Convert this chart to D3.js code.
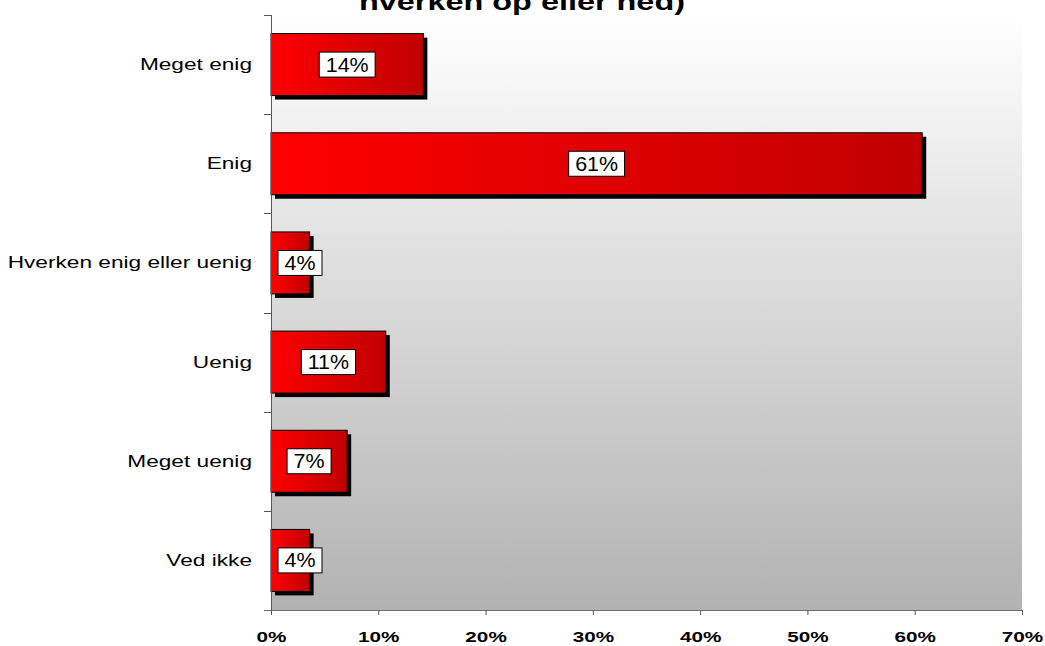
<!DOCTYPE html>
<html>
<head>
<meta charset="utf-8">
<script src="https://cdn.jsdelivr.net/npm/d3@7"></script>
<style>
  body { margin: 0; background: #fff; }
  svg { display: block; font-family: "Liberation Sans", Arial, sans-serif; }
</style>
</head>
<body>
<svg id="chart"></svg>
<script>
// chart data
const categories = ['Meget enig', 'Enig', 'Hverken enig eller uenig', 'Uenig', 'Meget uenig', 'Ved ikke'];
const values = [14.2, 60.7, 3.6, 10.7, 7.1, 3.6];
const xTicks = [0, 10, 20, 30, 40, 50, 60, 70];
const titleText = 'hverken op eller ned)';

class BarChart {

  constructor(_config) {
    this.config = {
      parentElement: _config.parentElement,
      containerWidth: 1045,
      containerHeight: 646,
      margin: { top: 15, right: 23, bottom: 36, left: 271 },
      stretch: 1.38   // the original picture is stretched sideways
    };
    this.initVis();
  }

  initVis() {
    let vis = this;
    vis.width = vis.config.containerWidth - vis.config.margin.left - vis.config.margin.right;
    vis.height = vis.config.containerHeight - vis.config.margin.top - vis.config.margin.bottom;

    vis.svg = d3.select(vis.config.parentElement)
      .attr('width', vis.config.containerWidth)
      .attr('height', vis.config.containerHeight);

    const defs = vis.svg.append('defs');
    const bg = defs.append('linearGradient')
      .attr('id', 'bg-grad')
      .attr('x1', 0).attr('y1', 0).attr('x2', 0).attr('y2', 1);
    bg.append('stop').attr('offset', '0%').attr('stop-color', '#ffffff');
    bg.append('stop').attr('offset', '100%').attr('stop-color', '#b2b2b2');

    const barGrad = defs.append('linearGradient')
      .attr('id', 'bar-grad')
      .attr('x1', 0).attr('y1', 0).attr('x2', 1).attr('y2', 0);
    barGrad.append('stop').attr('offset', '0%').attr('stop-color', '#ff0000');
    barGrad.append('stop').attr('offset', '100%').attr('stop-color', '#c00000');

    vis.chartArea = vis.svg.append('g')
      .attr('transform', `translate(${vis.config.margin.left},${vis.config.margin.top})`);

    vis.xScale = d3.scaleLinear()
      .domain([0, 70])
      .range([0, vis.width]);

    vis.yScale = d3.scaleBand()
      .domain(categories)
      .range([0, vis.height])
      .paddingInner(0.375)
      .paddingOuter(0.1875);

    // plot background
    vis.chartArea.append('rect')
      .attr('width', vis.width)
      .attr('height', vis.height)
      .attr('fill', 'url(#bg-grad)');

    // title, its upper part falls outside the picture like in the original
    vis.svg.append('text')
      .attr('transform', `translate(522,10) scale(${vis.config.stretch},1)`)
      .attr('text-anchor', 'middle')
      .style('font-weight', 'bold')
      .style('font-size', '23.5px')
      .text(titleText);
  }

  renderVis() {
    let vis = this;
    const data = categories.map((c, i) => ({ category: c, value: values[i] }));
    const bw = vis.yScale.bandwidth();

    // shadows
    vis.chartArea.selectAll('.shadow')
      .data(data)
      .join('rect')
      .attr('class', 'shadow')
      .attr('x', vis.xScale(0) + 4)
      .attr('y', d => vis.yScale(d.category) + 4)
      .attr('width', d => vis.xScale(d.value) - vis.xScale(0))
      .attr('height', bw)
      .attr('fill', '#000');

    // bars
    vis.chartArea.selectAll('.bar')
      .data(data)
      .join('rect')
      .attr('class', 'bar')
      .attr('x', vis.xScale(0))
      .attr('y', d => vis.yScale(d.category))
      .attr('width', d => vis.xScale(d.value) - vis.xScale(0))
      .attr('height', bw)
      .attr('fill', 'url(#bar-grad)')
      .attr('stroke', '#000')
      .attr('stroke-width', 1);

    // axes
    const xAxis = d3.axisBottom(vis.xScale)
      .tickValues(xTicks)
      .tickSize(5)
      .tickPadding(0)
      .tickFormat(d => d + '%');

    const yAxis = d3.axisLeft(vis.yScale)
      .tickSize(0)
      .tickFormat('');

    const xAxisG = vis.chartArea.append('g')
      .attr('class', 'axis x-axis')
      .attr('transform', `translate(0,${vis.height})`)
      .call(xAxis);

    xAxisG.select('.domain').attr('stroke', '#6e6e6e').attr('d', `M-7,0.5H${vis.width}`);
    xAxisG.selectAll('.tick line').attr('stroke', '#555');
    xAxisG.selectAll('.tick text')
      .attr('fill', '#000')
      .attr('y', null).attr('dy', null)
      .attr('transform', `translate(0,32) scale(${vis.config.stretch},1)`)
      .style('font-size', '15px')
      .style('font-weight', 'bold')
      .style('font-family', '"Liberation Sans", Arial, sans-serif');

    const yAxisG = vis.chartArea.append('g')
      .attr('class', 'axis y-axis')
      .call(yAxis);

    yAxisG.select('.domain').attr('stroke', '#555').attr('d', `M0.5,0V${vis.height}`);

    // ticks between the categories
    const step = vis.yScale.step();
    const bounds = d3.range(0, categories.length).map(i => vis.yScale(categories[i]) - step * 0.1875);
    yAxisG.selectAll('.sep')
      .data(bounds)
      .join('line')
      .attr('class', 'sep')
      .attr('x1', -7).attr('x2', 0)
      .attr('y1', d => Math.round(d) + 0.5).attr('y2', d => Math.round(d) + 0.5)
      .attr('stroke', '#555');

    // category labels
    vis.svg.selectAll('.cat-label')
      .data(data)
      .join('text')
      .attr('class', 'cat-label')
      .attr('transform', d => `translate(252,${vis.config.margin.top + vis.yScale(d.category) + bw / 2 + 5.5}) scale(1.4,1)`)
      .attr('text-anchor', 'end')
      .style('font-size', '16.2px')
      .attr('fill', '#000')
      .text(d => d.category);

    // value labels in white boxes
    const labels = vis.chartArea.selectAll('.val-label')
      .data(data)
      .join('g')
      .attr('class', 'val-label');

    labels.each(function (d) {
      const g = d3.select(this);
      const txt = g.append('text')
        .attr('text-anchor', 'middle')
        .style('font-size', '19.5px')
        .attr('fill', '#000')
        .attr('transform', 'scale(1.1,1)')
        .text(Math.round(d.value) + '%');
      const tw = txt.node().getComputedTextLength() * 1.1;
      const boxW = tw + 13;
      const boxH = 25;
      const mid = (vis.xScale(0) + vis.xScale(d.value)) / 2;
      const cx = Math.max(mid, vis.xScale(0) + boxW / 2 + 7);
      const cy = vis.yScale(d.category) + bw / 2;
      g.attr('transform', `translate(${cx},${cy})`);
      g.insert('rect', 'text')
        .attr('x', -boxW / 2)
        .attr('y', -boxH / 2)
        .attr('width', boxW)
        .attr('height', boxH)
        .attr('fill', '#fff')
        .attr('stroke', '#000')
        .attr('stroke-width', 1);
      txt.attr('transform', `translate(0,7) scale(1.1,1)`);
    });
  }
}

const chart = new BarChart({ parentElement: '#chart' });
chart.renderVis();
</script>
</body>
</html>
